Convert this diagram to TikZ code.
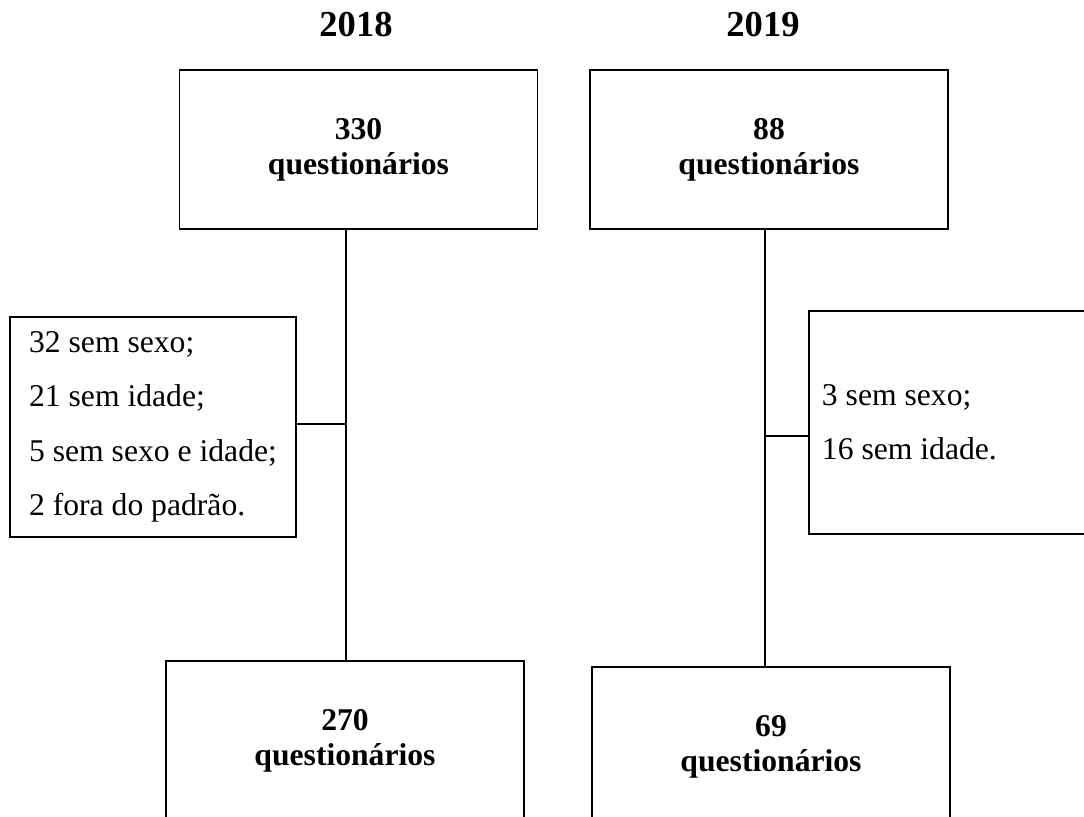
\documentclass[tikz,border=0pt]{standalone}
\usepackage{fontspec}
\setmainfont{Liberation Serif}
\begin{document}
\begin{tikzpicture}
[x=0.025cm, y=-0.025cm, line width=1.2pt, color=black,
 year/.style={font=\fontsize{26}{28}\selectfont\bfseries},
 box/.style={draw, minimum width=8.95cm, minimum height=3.975cm, align=center,
   inner sep=0pt, font=\fontsize{22.5}{25}\selectfont\bfseries},
 list/.style={draw, minimum width=7.15cm, minimum height=5.5cm, align=left,
   font=\fontsize{22.5}{38.6}\selectfont}]
  \useasboundingbox (0,0) rectangle (1084,816);
  \node[year] (y1) at (356,25) {2018};
  \node[year] (y2) at (763,25) {2019};
  \node[box] (b1) at (358.5,149.5) {330\\questionários};
  \node[box] (b2) at (769,149.5) {88\\questionários};
  \node[box] (b3) at (345,740.5) {270\\questionários};
  \node[box] (b4) at (771,746.5) {69\\questionários};
  \node[list] (m1) at (153,427)
    {32 sem sexo;\\21 sem idade;\\5 sem sexo e idade;\\2 fora do padrão.};
  \node[list, align=flush left, text width=6.5cm, inner xsep=0.3cm,
    minimum height=5.575cm] (m2) at (952,422.5) {3 sem sexo;\\16 sem idade.};
  \coordinate (j1) at (346,424);
  \coordinate (j2) at (765,436);
  \foreach \from/\to in {b1.south -| j1/b3.north -| j1,
                         b2.south -| j2/b4.north -| j2,
                         m1.east |- j1/j1, j2/m2.west |- j2}
  \draw (\from) -- (\to);
\end{tikzpicture}
\end{document}
